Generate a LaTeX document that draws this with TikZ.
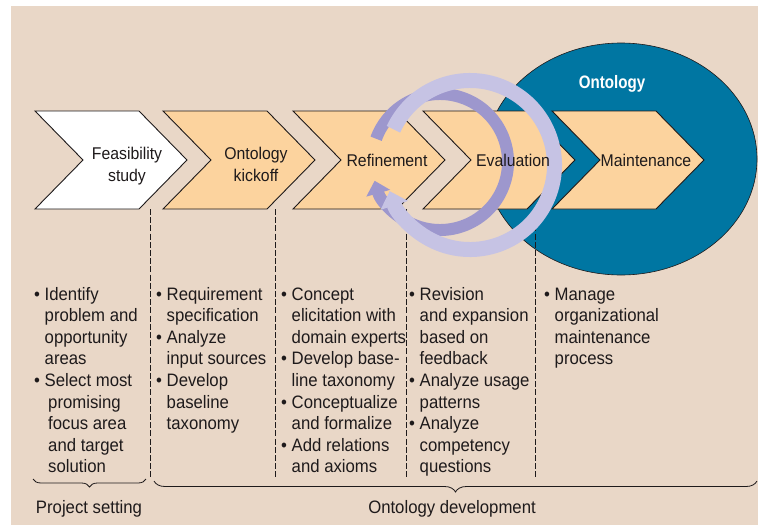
\documentclass[tikz,border=0pt]{standalone}
\usepackage{fontspec}
\setmainfont{Liberation Sans}[FakeStretch=0.93]
\newfontfamily\ontfont{Liberation Sans}[FakeStretch=0.84]
\usetikzlibrary{arrows.meta,decorations.pathreplacing,shapes.geometric}
\definecolor{bg}{RGB}{233,215,199}
\definecolor{peach}{RGB}{252,211,158}
\definecolor{oblue}{RGB}{0,118,162}
\definecolor{ringlight}{RGB}{198,195,228}
\definecolor{ringdark}{RGB}{157,151,205}
\definecolor{ink}{RGB}{30,26,27}
\newcommand\bodyfont{\fontsize{18}{21.6}\selectfont}
\newcommand\chevfont{\fontsize{17}{22}\selectfont}
\newcommand\bul{\makebox[10.5pt][l]{\textbullet}}
\newcommand\ind[1][10.5pt]{\hspace*{#1}}
\begin{document}
\begin{tikzpicture}[x=1pt,y=-1pt,
  chev/.style={draw=ink,line width=0.9pt,line join=miter},
  chevlabel/.style={font=\chevfont,text=ink,inner sep=0pt,anchor=base},
  col/.style={font=\bodyfont,text=ink,inner sep=0pt,anchor=base west},
  sep/.style={draw=ink,line width=0.8pt,dash pattern=on 6pt off 2.2pt},
  bracedeco/.style={decorate,decoration={brace,mirror,amplitude=#1},draw=ink,line width=0.8pt},
  caption/.style={font=\bodyfont,text=ink,inner sep=0pt,anchor=base}]
\useasboundingbox (0,0) rectangle (758,525);
\fill[white] (0,0) rectangle (758,525);
\fill[bg] (11,6) rectangle (758,525);
% ontology ellipse
\node[ellipse,fill=oblue,draw=ink,line width=0.6pt,minimum width=272pt,minimum height=232pt,inner sep=0pt] (onto) at (621,159) {};
\node[font=\ontfont\bfseries\fontsize{18}{20}\selectfont,text=white,inner sep=0pt,anchor=base] (ontolabel) at (612,88) {Ontology};
% chevrons
\foreach \L/\c in {35/white,163/peach,293/peach,423/peach,552/peach}{
  \draw[chev,fill=\c] (\L,111) -- ++(104,0) -- ++(48,49) -- ++(-48,49) -- ++(-104,0) -- ++(48,-49) -- cycle;
}
% separators
\foreach \x in {150,275,406,535}{
  \coordinate (t\x) at (\x,209);
  \coordinate (b\x) at (\x,477);
  \draw[sep] (t\x) -- (b\x);
}
% rings
\coordinate (dc) at (440,162);
\coordinate (lc) at (470,165);
\draw[ringdark,line width=12pt,-{Triangle[width=24pt,length=13pt]}] ([shift={(-160:68)}]dc) arc[start angle=-160,end angle=164,radius=68];
\draw[ringlight,line width=15pt,-{Triangle[width=28pt,length=15pt]}] ([shift={(-155:84.5)}]lc) arc[start angle=-155,end angle=162,radius=84.5];
% chevron labels
\node[chevlabel] (feas) at (127,159) {\begin{tabular}[t]{@{}c@{}}Feasibility\\study\end{tabular}};
\node[chevlabel] (kick) at (256,159) {\begin{tabular}[t]{@{}c@{}}Ontology\\kickoff\end{tabular}};
\node[chevlabel] (refi) at (387,166) {Refinement};
\node[chevlabel] (eval) at (513,166) {Evaluation};
\node[chevlabel] (main) at (646,166) {Maintenance};
% columns
\node[col] (c1) at (34,300) {\begin{tabular}[t]{@{}l@{}}\bul Identify\\\ind problem and\\\ind opportunity\\\ind areas\\\bul Select most\\\ind[14pt]promising\\\ind[14pt]focus area\\\ind[14pt]and target\\\ind[14pt]solution\end{tabular}};
\node[col] (c2) at (156,300) {\begin{tabular}[t]{@{}l@{}}\bul Requirement\\\ind specification\\\bul Analyze\\\ind input sources\\\bul Develop\\\ind baseline\\\ind taxonomy\end{tabular}};
\node[col] (c3) at (281,300) {\begin{tabular}[t]{@{}l@{}}\bul Concept\\\ind elicitation with\\\ind domain experts\\\bul Develop base-\\\ind line taxonomy\\\bul Conceptualize\\\ind and formalize\\\bul Add relations\\\ind and axioms\end{tabular}};
\node[col] (c4) at (409,300) {\begin{tabular}[t]{@{}l@{}}\bul Revision\\\ind and expansion\\\ind based on\\\ind feedback\\\bul Analyze usage\\\ind patterns\\\bul Analyze\\\ind competency\\\ind questions\end{tabular}};
\node[col] (c5) at (544,300) {\begin{tabular}[t]{@{}l@{}}\bul Manage\\\ind organizational\\\ind maintenance\\\ind process\end{tabular}};
% braces
\coordinate (ps1) at (33,479);
\coordinate (ps2) at (146,479);
\coordinate (od1) at (154,481);
\coordinate (od2) at (757,481);
\draw[bracedeco=8pt] (ps1) -- (ps2);
\draw[bracedeco=11pt] (od1) -- (od2);
\node[caption] (pset) at (89,513) {Project setting};
\node[caption] (odev) at (452,513) {Ontology development};
\end{tikzpicture}
\end{document}
